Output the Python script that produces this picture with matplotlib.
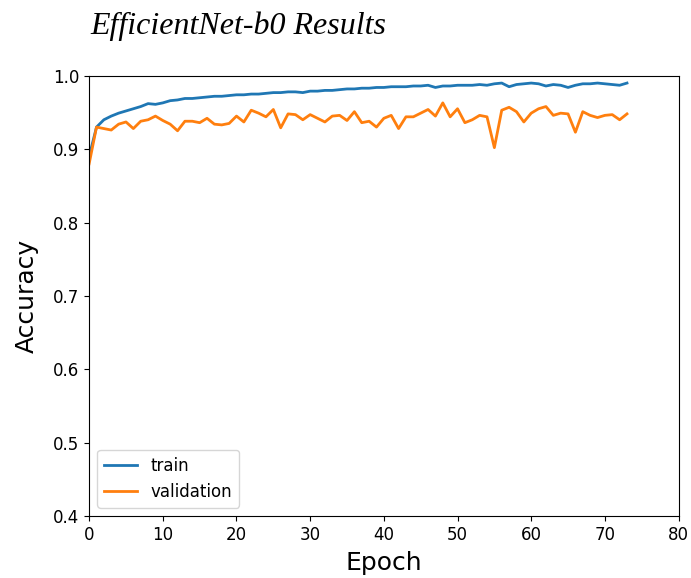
import matplotlib
matplotlib.use("Agg")
import matplotlib.pyplot as plt
import numpy as np

# per-epoch accuracy history
train_acc = [
    0.890, 0.930, 0.940, 0.945, 0.949, 0.952, 0.955, 0.958, 0.962, 0.961,
    0.963, 0.966, 0.967, 0.969, 0.969, 0.970, 0.971, 0.972, 0.972, 0.973,
    0.974, 0.974, 0.975, 0.975, 0.976, 0.977, 0.977, 0.978, 0.978, 0.977,
    0.979, 0.979, 0.980, 0.980, 0.981, 0.982, 0.982, 0.983, 0.983, 0.984,
    0.984, 0.985, 0.985, 0.985, 0.986, 0.986, 0.987, 0.984, 0.986, 0.986,
    0.987, 0.987, 0.987, 0.988, 0.987, 0.989, 0.990, 0.985, 0.988, 0.989,
    0.990, 0.989, 0.986, 0.988, 0.987, 0.984, 0.987, 0.989, 0.989, 0.990,
    0.989, 0.988, 0.987, 0.990,
]
val_acc = [
    0.880, 0.930, 0.928, 0.926, 0.934, 0.937, 0.928, 0.938, 0.940, 0.945,
    0.939, 0.934, 0.925, 0.938, 0.938, 0.936, 0.942, 0.934, 0.933, 0.935,
    0.945, 0.937, 0.953, 0.949, 0.944, 0.954, 0.929, 0.948, 0.947, 0.940,
    0.947, 0.942, 0.937, 0.945, 0.946, 0.939, 0.951, 0.936, 0.938, 0.930,
    0.942, 0.946, 0.928, 0.944, 0.944, 0.949, 0.954, 0.945, 0.963, 0.944,
    0.955, 0.936, 0.940, 0.946, 0.944, 0.902, 0.953, 0.957, 0.951, 0.937,
    0.949, 0.955, 0.958, 0.946, 0.949, 0.948, 0.923, 0.951, 0.946, 0.943,
    0.946, 0.947, 0.940, 0.948,
]
epochs = np.arange(len(train_acc))

fig = plt.figure(figsize=(6.91, 5.78), dpi=100)
ax = fig.add_axes([0.129, 0.107, 0.853, 0.762])

ax.plot(epochs, train_acc, color="tab:blue", lw=2, label="train")
ax.plot(epochs, val_acc, color="tab:orange", lw=2, label="validation")

ax.set_xlim(0, 80)
ax.set_ylim(0.4, 1.0)
ax.set_xticks(range(0, 81, 10))
ax.set_yticks(np.arange(0.4, 1.01, 0.1))
ax.tick_params(labelsize=12)
ax.set_xlabel("Epoch", fontsize=18, labelpad=5)
ax.set_ylabel("Accuracy", fontsize=18, labelpad=10)
ax.legend(loc="lower left", fontsize=12)

fig.text(0.131, 0.955, "EfficientNet-b0 Results", family="Liberation Serif",
         style="italic", fontsize=23, va="center", ha="left")

fig.savefig("out.png", dpi=100)
